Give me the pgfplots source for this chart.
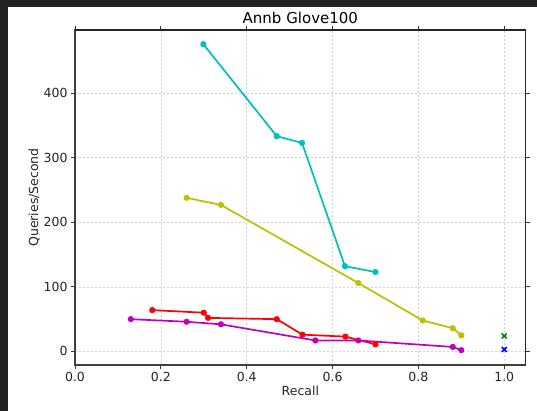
\documentclass[border=0pt]{standalone}
\usepackage{pgfplots}
\pgfplotsset{compat=1.18}
\usepackage{fontspec}
\setmainfont{DejaVu Sans}
\definecolor{mc}{rgb}{0,0.75,0.75}
\definecolor{my}{rgb}{0.75,0.75,0}
\definecolor{mm}{rgb}{0.75,0,0.75}
\definecolor{mg}{rgb}{0,0.5,0}
\definecolor{darkbg}{HTML}{232323}
\begin{document}
\begin{tikzpicture}[x=1pt,y=1pt]
\fill[white] (0,0) rectangle (537,411);
\fill[darkbg] (0,0) rectangle (7.5,411);
\fill[darkbg] (0,403.5) rectangle (537,411);
\begin{axis}[
  at={(75pt,46pt)}, anchor=south west,
  scale only axis, width=450.7pt, height=335pt,
  xmin=0, xmax=1.05, ymin=-21, ymax=498,
  xtick={0,0.2,0.4,0.6,0.8,1.0},
  ytick={0,100,200,300,400},
  xticklabel style={/pgf/number format/fixed,/pgf/number format/precision=1,/pgf/number format/fixed zerofill},
  /pgf/number format/assume math mode=true,
  tick label style={font=\fontsize{12.5}{14}\selectfont, text=black!85},
  label style={font=\fontsize{12.5}{14}\selectfont, text=black!85},
  title style={font=\fontsize{15}{17}\selectfont, yshift=-3pt},
  title={Annb Glove100},
  xlabel={Recall}, ylabel={Queries/Second},
  xlabel style={yshift=3pt}, ylabel style={yshift=-3pt},
  grid=major,
  major grid style={dash pattern=on 2pt off 2pt, gray!35, line width=0.6pt},
  tick align=outside, major tick length=4pt,
  tick style={black!80, line width=0.8pt},
  axis line style={black!75, line width=1.2pt},
  every axis plot/.append style={line width=1.7pt},
]
\addplot[mc, mark=*, mark size=2.2pt] coordinates {(0.299,476) (0.47,333.5) (0.529,323) (0.629,132) (0.70,123)};
\addplot[my, mark=*, mark size=2.2pt] coordinates {(0.26,238) (0.34,227) (0.66,106) (0.81,48) (0.88,36) (0.90,25)};
\addplot[red, mark=*, mark size=2.2pt] coordinates {(0.18,64) (0.30,60) (0.31,52) (0.47,50) (0.53,26) (0.63,23) (0.70,11)};
\addplot[mm, mark=*, mark size=2.2pt] coordinates {(0.13,50) (0.26,46) (0.34,42) (0.56,17) (0.66,17) (0.88,7) (0.90,2)};
\addplot[mg, only marks, mark=x, mark size=3.5pt, mark options={line width=1.6pt}] coordinates {(1.0,24)};
\addplot[blue, only marks, mark=x, mark size=3.5pt, mark options={line width=1.6pt}] coordinates {(1.0,3)};
\end{axis}
\draw[black!85, line width=1.4pt] (75,380.8) -- (525.4,380.8) -- (525.4,46);
\end{tikzpicture}
\end{document}
